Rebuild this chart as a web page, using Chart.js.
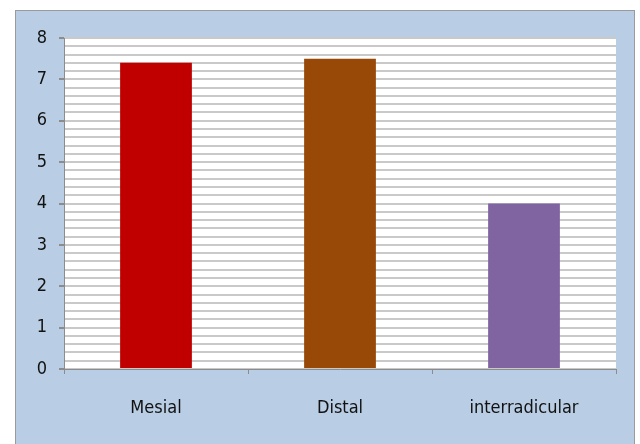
<!DOCTYPE html>
<html lang="en">
<head>
    <meta charset="UTF-8">
    <title>Mesial / Distal / interradicular</title>
    <script src="https://cdn.jsdelivr.net/npm/chart.js"></script>
    <style>
        body { margin: 0; background: #fff; }
        #frame {
            position: absolute; left: 15px; top: 10px;
            width: 620px; height: 440px;
            background: #b9cde4;
            border-left: 1px solid #9a9a9a;
            border-top: 1px solid #9a9a9a;
            border-right: 1px solid #9a9a9a;
            box-sizing: border-box;
        }
        #wrap { position: absolute; left: 0; top: 0; width: 618px; height: 434px; }
    </style>
</head>
<body>
    <div id="frame">
        <div id="wrap"><canvas id="chart"></canvas></div>
    </div>
    <script>
        var categories = ['Mesial', 'Distal', 'interradicular'];
        var values = [7.4, 7.5, 4.0];
        var barColors = ['#c00000', '#984807', '#8064a2'];
        var yTicks = [0, 1, 2, 3, 4, 5, 6, 7, 8];

        var fontFamily = "'Liberation Sans Narrow', 'DejaVu Sans Condensed', sans-serif";

        // white plot area
        var plotBg = {
            id: 'plotBg',
            beforeDraw: function(chart) {
                var a = chart.chartArea, ctx = chart.ctx;
                ctx.save();
                ctx.fillStyle = '#ffffff';
                ctx.fillRect(a.left, a.top, a.right - a.left, a.bottom - a.top);
                ctx.restore();
            }
        };

        function isMajor(v) {
            return yTicks.indexOf(Math.round(v * 10) / 10) >= 0;
        }

        var ctx = document.getElementById('chart').getContext('2d');
        new Chart(ctx, {
            type: 'bar',
            data: {
                labels: categories,
                datasets: [{
                    data: values,
                    backgroundColor: barColors,
                    borderWidth: 0,
                    barPercentage: 0.39,
                    categoryPercentage: 1
                }]
            },
            options: {
                responsive: true,
                maintainAspectRatio: false,
                animation: false,
                layout: { padding: { left: 0, right: 18, top: 27, bottom: 0 } },
                plugins: {
                    legend: { display: false },
                    tooltip: { enabled: false }
                },
                scales: {
                    x: {
                        grid: {
                            offset: true,
                            drawOnChartArea: false,
                            color: '#8c8c8c',
                            tickLength: 5
                        },
                        border: { color: '#8c8c8c', width: 1 },
                        ticks: {
                            color: '#111111',
                            padding: 24,
                            font: { family: fontFamily, size: 18 }
                        },
                        afterFit: function(scale) { scale.height = 76; }
                    },
                    y: {
                        min: 0,
                        max: 8,
                        ticks: {
                            stepSize: 0.2,
                            autoSkip: false,
                            color: '#111111',
                            padding: 12,
                            font: { family: fontFamily, size: 18 },
                            callback: function(v) { return isMajor(v) ? Math.round(v) : ''; }
                        },
                        grid: {
                            color: '#c9c9c9',
                            lineWidth: 2,
                            tickLength: 5,
                            tickColor: function(c) { return isMajor(c.tick.value) ? '#8c8c8c' : 'rgba(0,0,0,0)'; }
                        },
                        border: { color: '#8c8c8c', width: 1 },
                        afterFit: function(scale) { scale.width = 48; }
                    }
                }
            },
            plugins: [plotBg]
        });
    </script>
</body>
</html>
